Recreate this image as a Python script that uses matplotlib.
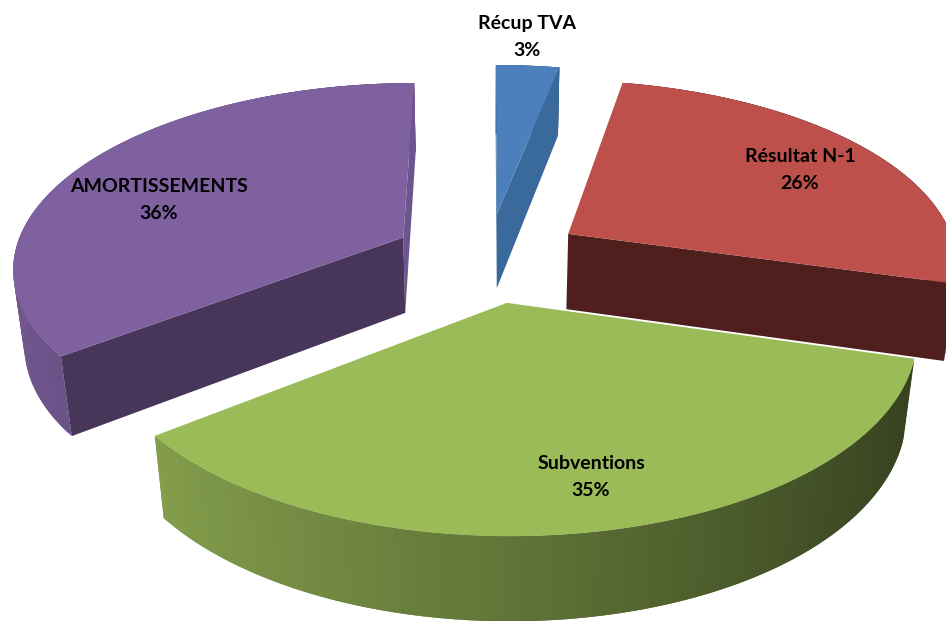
import matplotlib.pyplot as plt
import numpy as np
from matplotlib.colors import to_rgb

# Data (labels on the chart show these rounded)
labels = ['Récup TVA', 'Résultat N-1', 'Subventions', 'AMORTISSEMENTS']
values = [3.1, 26.4, 35.3, 35.6]

# Colours per slice: top, start cut face, end cut face
top_colors = ['#4C80BC', '#BE504C', '#9BBB59', '#7F61A0']
start_cut_colors = ['#3A6A9B', '#4F1F1E', '#4F6030', '#47355A']
end_cut_colors = ['#3A6A9B', '#4F1F1E', '#4F6030', '#6D5690']
draw_order = [0, 3, 1, 2]

# Label centres in pixels
label_pos = [(527, 37), (800, 170), (591, 477), (159, 200)]

# Perspective settings
CX, CY = 488, 257
A, B, H = 390, 183, 78
P, Q = 0.15, 0.024
EXPLODE = 0.246
DEPTH = 1.0


def project(x, y, z):
    w = 1 + P * y - Q * z
    return CX + A * x / w, CY - (B * y + H * z) / w


def shade(color, theta):
    # outer wall goes dark towards the right, light towards the left
    f = 0.62 - 0.28 * np.sin(theta)
    return tuple(c * f for c in to_rgb(color))


def signed_area(corners):
    xs, ys = np.array(corners).T
    return np.sum(xs * np.roll(ys, -1) - np.roll(xs, -1) * ys) / 2


fig = plt.figure(figsize=(9.46, 6.21), dpi=100)
ax = fig.add_axes([0, 0, 1, 1])
ax.set_xlim(0, 946)
ax.set_ylim(621, 0)
ax.axis('off')

# Slice angles, clockwise from the top
edges = np.cumsum([0] + values) / sum(values) * 2 * np.pi

for i in draw_order:
    t0, t1 = edges[i], edges[i + 1]
    mid = (t0 + t1) / 2
    ox, oy = EXPLODE * np.sin(mid), EXPLODE * np.cos(mid)
    t = np.linspace(t0, t1, 120)
    ex, ey = ox + np.sin(t), oy + np.cos(t)

    # outer wall as overlapping strips, for the gradient without seams
    for j in range(len(t) - 1):
        k = min(j + 2, len(t) - 1)
        corners = [project(ex[j], ey[j], 0), project(ex[k], ey[k], 0),
                   project(ex[k], ey[k], -DEPTH), project(ex[j], ey[j], -DEPTH)]
        col = shade(top_colors[i], (t[j] + t[j + 1]) / 2)
        ax.fill(*zip(*corners), color=col, lw=0, zorder=1)

    # cut faces, only the ones that face the viewer
    for angle, col, sign in [(t1, end_cut_colors[i], 1), (t0, start_cut_colors[i], -1)]:
        rx, ry = ox + np.sin(angle), oy + np.cos(angle)
        corners = [project(ox, oy, 0), project(rx, ry, 0),
                   project(rx, ry, -DEPTH), project(ox, oy, -DEPTH)]
        if signed_area(corners) * sign > 0:
            ax.fill(*zip(*corners), color=col, lw=0, zorder=1)

    # top face
    px, py = project(np.r_[ox, ex], np.r_[oy, ey], 0)
    ax.fill(px, py, color=top_colors[i], lw=0, zorder=1)

for name, val, (x, y) in zip(labels, values, label_pos):
    ax.text(x, y, f'{name}\n{val:.0f}%', ha='center', va='center', fontsize=14,
            family='Lato', fontweight='bold', color='black', linespacing=1.7, zorder=3)

fig.savefig('out.png', dpi=100)
